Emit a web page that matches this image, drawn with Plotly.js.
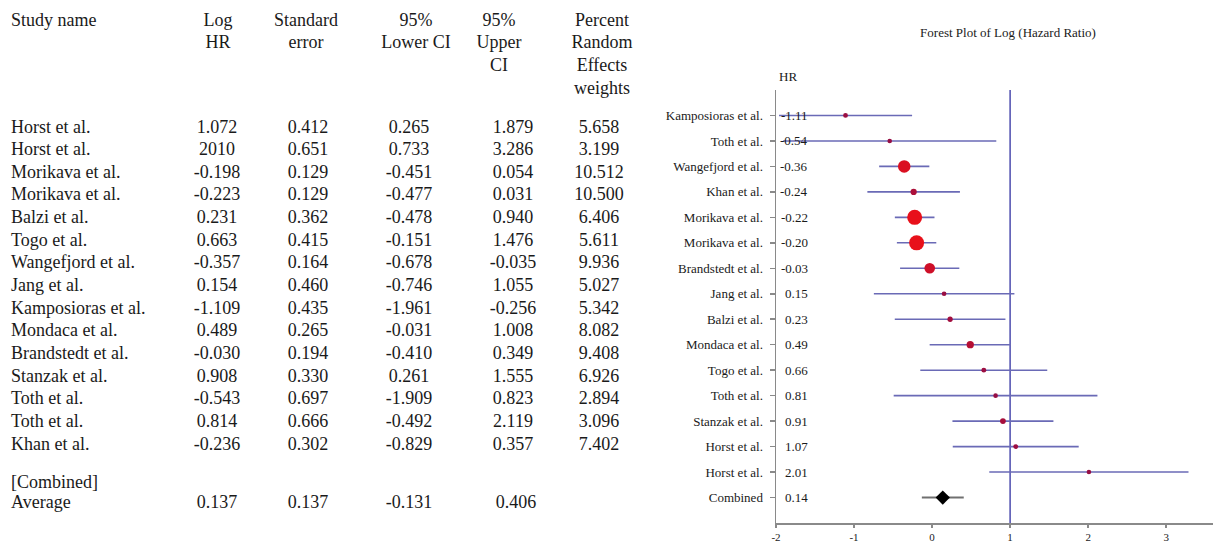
<!DOCTYPE html>
<html>
<head>
<meta charset="utf-8">
<script src="https://cdn.plot.ly/plotly-3.0.1.min.js"></script>
<style>html,body{margin:0;padding:0;background:#fff;}#chart{width:1218px;height:543px;}</style>
</head>
<body>
<div id="chart"></div>
<script>
// ---------------- data ----------------
const studies = ["Horst et al.","Horst et al.","Morikava et al.","Morikava et al.","Balzi et al.","Togo et al.","Wangefjord et al.","Jang et al.","Kamposioras et al.","Mondaca et al.","Brandstedt et al.","Stanzak et al.","Toth et al.","Toth et al.","Khan et al."];
const logHR = [1.072, 2.010, -0.198, -0.223, 0.231, 0.663, -0.357, 0.154, -1.109, 0.489, -0.030, 0.908, -0.543, 0.814, -0.236];
const logHRText = ["1.072","2010","-0.198","-0.223","0.231","0.663","-0.357","0.154","-1.109","0.489","-0.030","0.908","-0.543","0.814","-0.236"];
const stdErr = [0.412, 0.651, 0.129, 0.129, 0.362, 0.415, 0.164, 0.460, 0.435, 0.265, 0.194, 0.330, 0.697, 0.666, 0.302];
const lowerCI = [0.265, 0.733, -0.451, -0.477, -0.478, -0.151, -0.678, -0.746, -1.961, -0.031, -0.410, 0.261, -1.909, -0.492, -0.829];
const upperCI = [1.879, 3.286, 0.054, 0.031, 0.940, 1.476, -0.035, 1.055, -0.256, 1.008, 0.349, 1.555, 0.823, 2.119, 0.357];
const weights = [5.658, 3.199, 10.512, 10.500, 6.406, 5.611, 9.936, 5.027, 5.342, 8.082, 9.408, 6.926, 2.894, 3.096, 7.402];

const combinedLabel = "Combined";
const combinedTableLabel = ["[Combined]", "Average"];
const combinedLogHR = 0.137;
const combinedSE = 0.137;
const combinedLower = -0.131;
const combinedUpper = 0.406;

const headerStudy = ["Study name"];
const headerLogHR = ["Log", "HR"];
const headerSE = ["Standard", "error"];
const headerLower = ["95%", "Lower CI"];
const headerUpper = ["95%", "Upper", "CI"];
const headerWeight = ["Percent", "Random", "Effects", "weights"];

const plotTitle = "Forest Plot of Log (Hazard Ratio)";
const yAxisLabel = "HR";
const xTickVals = [-2, -1, 0, 1, 2, 3];

// ---------------- layout constants ----------------
const SERIF = "Liberation Serif, Times New Roman, serif";
const W = 1218, H = 543;
const M = {l: 0, r: 5, t: 0, b: 20};
const PW = W - M.l - M.r, PH = H - M.t - M.b;
const AX_LEFT_PX = 776, AX_TOP_PX = 90;
const xDomStart = AX_LEFT_PX / PW;
const yDomTop = (PH - AX_TOP_PX) / PH;

// table geometry (pixel-based helper axes)
const TAB = {
  nameX: 11, colX: [217, 308, 409, 513, 599], headX: [218, 306, 416, 499, 602],
  headY0: 21, headDY: 22.7, rowY0: 128, rowDY: 22.65, combY: [483, 503], font: 18
};

const traces = [];
const ink = "#1a1a1a";

function textTrace(xs, ys, texts, pos, size) {
  return {type: "scatter", mode: "text", x: xs, y: ys, text: texts, textposition: pos,
    textfont: {family: SERIF, size: size, color: ink}, xaxis: "x2", yaxis: "y2",
    hoverinfo: "skip", showlegend: false, cliponaxis: false};
}

// Headers
const headers = [headerLogHR, headerSE, headerLower, headerUpper, headerWeight];
traces.push(textTrace([TAB.nameX], [TAB.headY0], headerStudy, "middle right", TAB.font));
headers.forEach((lines, c) => {
  traces.push(textTrace(lines.map(() => TAB.headX[c]), lines.map((_, k) => TAB.headY0 + k * TAB.headDY), lines, "middle center", TAB.font));
});

// Rows
const rowYs = studies.map((_, i) => TAB.rowY0 + i * TAB.rowDY);
traces.push(textTrace(studies.map(() => TAB.nameX), rowYs, studies, "middle right", TAB.font));
const cols = [logHRText, stdErr.map(v => v.toFixed(3)), lowerCI.map(v => v.toFixed(3)), upperCI.map(v => v.toFixed(3)), weights.map(v => v.toFixed(3))];
cols.forEach((vals, c) => {
  traces.push(textTrace(vals.map(() => TAB.colX[c]), rowYs, vals, "middle center", TAB.font));
});
// combined rows
traces.push(textTrace([TAB.nameX, TAB.nameX], TAB.combY, combinedTableLabel, "middle right", TAB.font));
const combVals = [combinedLogHR, combinedSE, combinedLower, combinedUpper].map(v => v.toFixed(3));
traces.push(textTrace(combVals.map((_, c) => TAB.colX[c] + (c === 3 ? 3 : 0)), combVals.map(() => TAB.combY[1]), combVals, "middle center", TAB.font));

// ---------------- forest plot ----------------
const order = logHR.map((v, i) => i).sort((a, b) => logHR[a] - logHR[b]);
const rows = order.map((_, r) => r);
const combRow = order.length;

function markerSize(w) {
  const t = Math.max(0, (w - 2.9) / 7.6);
  return 4.6 + 10.4 * Math.pow(t, 3.5);
}
function markerColor(w) {
  // dark crimson for light-weight studies -> vivid red for heavy-weight studies
  const t = Math.min(1, Math.max(0, (w - 2.9) / 7.6));
  const s = Math.pow(t, 2.5);
  const c0 = [150, 14, 68], c1 = [232, 16, 26];
  const c = c0.map((v, k) => Math.round(v + (c1[k] - v) * s));
  return "rgb(" + c.join(",") + ")";
}

traces.push({
  type: "scatter", mode: "markers",
  x: order.map(i => logHR[i]), y: rows,
  error_x: {type: "data", symmetric: false,
    array: order.map(i => upperCI[i] - logHR[i]),
    arrayminus: order.map(i => logHR[i] - lowerCI[i]),
    color: "#6a6ab6", thickness: 1.6, width: 0},
  marker: {symbol: "circle", size: order.map(i => markerSize(weights[i])),
    color: order.map(i => markerColor(weights[i])), opacity: 1,
    line: {width: 0}},
  opacity: 1,
  hoverinfo: "skip", showlegend: false
});

traces.push({
  type: "scatter", mode: "markers", x: [combinedLogHR], y: [combRow],
  error_x: {type: "data", symmetric: false, array: [combinedUpper - combinedLogHR], arrayminus: [combinedLogHR - combinedLower],
    color: "#707070", thickness: 2, width: 0},
  marker: {symbol: "diamond", size: 11, color: "#000", opacity: 1},
  hoverinfo: "skip", showlegend: false
});

const valueLabelX = -1.56;
const annotations = order.map((i, r) => ({
  xref: "x", yref: "y", x: valueLabelX, y: r, text: logHR[i].toFixed(2), showarrow: false,
  xanchor: "right", yanchor: "middle", font: {family: SERIF, size: 13, color: ink}
}));
annotations.push({xref: "x", yref: "y", x: valueLabelX, y: combRow, text: combinedLogHR.toFixed(2), showarrow: false,
  xanchor: "right", yanchor: "middle", font: {family: SERIF, size: 13, color: ink}});
annotations.push({xref: "x", yref: "paper", x: -1.85, y: (PH - 76) / PH, text: yAxisLabel, showarrow: false,
  xanchor: "center", yanchor: "middle", font: {family: SERIF, size: 13, color: ink}});

const layout = {
  width: W, height: H, margin: M, paper_bgcolor: "#fff", plot_bgcolor: "#fff",
  showlegend: false, hovermode: false,
  title: {text: plotTitle, x: 1008 / W, xanchor: "center", y: 1 - 32 / H, yanchor: "middle",
    font: {family: SERIF, size: 13, color: ink}},
  xaxis: {domain: [xDomStart, 1], range: [-2, 3.6], tickvals: xTickVals, ticktext: xTickVals.map(String),
    showgrid: false, zeroline: false, showline: true, linecolor: "#8a8a8a", linewidth: 1.5,
    ticks: "outside", ticklen: 3, tickcolor: "#8a8a8a", tickwidth: 1.5,
    tickfont: {family: SERIF, size: 11, color: ink}, fixedrange: true},
  yaxis: {domain: [0, yDomTop], range: [combRow + 1, -1], tickvals: rows.concat([combRow]),
    ticktext: order.map(i => studies[i]).concat([combinedLabel]),
    showgrid: false, zeroline: false, showline: true, linecolor: "#8a8a8a", linewidth: 1.5,
    ticks: "outside", ticklen: 5, tickcolor: "#8a8a8a", tickwidth: 1.5, ticklabelstandoff: 4,
    tickfont: {family: SERIF, size: 13, color: ink}, fixedrange: true},
  xaxis2: {domain: [0, xDomStart], range: [0, AX_LEFT_PX], visible: false, anchor: "y2", fixedrange: true},
  yaxis2: {domain: [0, 1], range: [PH, 0], visible: false, anchor: "x2", fixedrange: true},
  shapes: [{type: "line", xref: "x", yref: "y", x0: 1, x1: 1, y0: -1, y1: combRow + 1,
    line: {color: "#4c4cae", width: 1.5}, layer: "below"}],
  annotations: annotations
};

Plotly.newPlot("chart", traces, layout, {displayModeBar: false, staticPlot: true});
</script>
</body>
</html>
